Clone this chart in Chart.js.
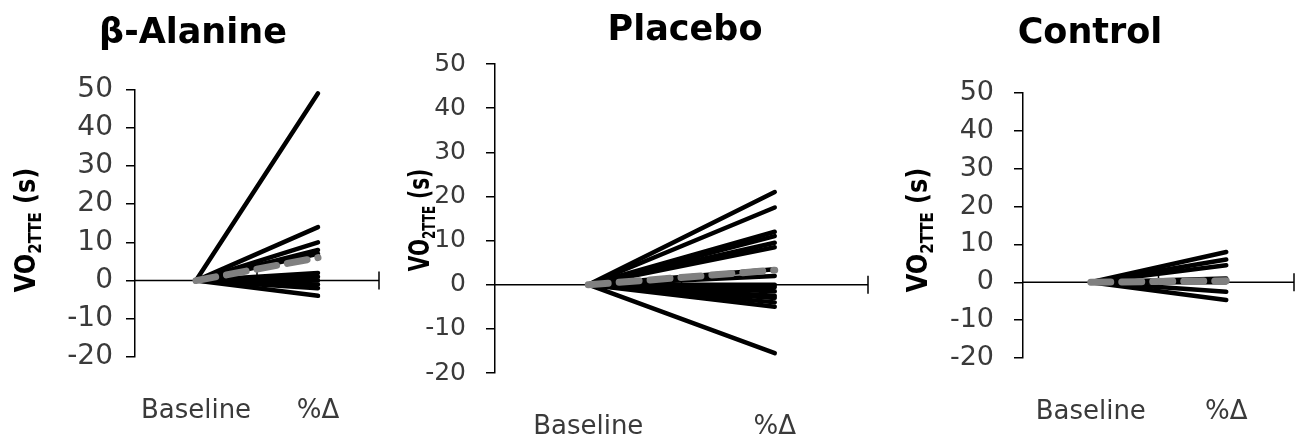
<!DOCTYPE html>
<html>
<head>
<meta charset="utf-8">
<script src="https://cdn.jsdelivr.net/npm/chart.js@4.4.1/dist/chart.umd.min.js"></script>
<style>
body{margin:0;background:#fff;width:1303px;height:444px;overflow:hidden;position:relative}
canvas{position:absolute;top:0}
</style>
</head>
<body>
<canvas id="c1" width="395" height="444" style="left:0px"></canvas>
<canvas id="c2" width="490" height="444" style="left:395px"></canvas>
<canvas id="c3" width="418" height="444" style="left:885px"></canvas>
<script>
// categories + y scale
const categories = ['Baseline', '%Δ'];
const yMin = -20, yMax = 50, yStep = 10;
const baselineValue = 0;

// %Δ of each subject
const alanineChange = [49, 14, 10, 8, 7, 2, 1, 0, -1, -2, -4];
const alanineMean = 6;
const placeboChange = [21, 17.5, 12, 11, 9.5, 8.5, 3.5, 2, 0, -0.5, -1.5, -2.5, -3, -4, -5, -15.5];
const placeboMean = 3.3;
const controlChange = [8, 6, 4.5, 1, 0, -2.5, -4.7];
const controlMean = 0.4;

// layout of each panel (canvas-local pixels)
const panels = [
  {id:'c1', title:'β-Alanine', change:alanineChange, mean:alanineMean,
   left:135, right:379, top:89.5, bottom:357, titleX:193, titleY:43,
   yTitleX:35, yTitleY:230, ySize:24, yStretch:1.15, tickSize:28, tickPad:13, xPad:31},
  {id:'c2', title:'Placebo', change:placeboChange, mean:placeboMean,
   left:100, right:473, top:64, bottom:373, titleX:290, titleY:40,
   yTitleX:34, yTitleY:220, ySize:20, yStretch:1.4, tickSize:25, tickPad:20, xPad:31},
  {id:'c3', title:'Control', change:controlChange, mean:controlMean,
   left:138, right:409, top:93, bottom:358, titleX:205, titleY:43,
   yTitleX:42, yTitleY:230, ySize:24, yStretch:1.15, tickSize:27, tickPad:20, xPad:31}
];

const FONT = '"DejaVu Sans"';

const panelDecor = {
  id: 'panelDecor',
  beforeDatasetsDraw(chart, args, o) {
    const ctx = chart.ctx, x = chart.scales.x, y = chart.scales.y, a = chart.chartArea;
    const y0 = y.getPixelForValue(0);
    const mid = (x.getPixelForValue(0) + x.getPixelForValue(1)) / 2;
    ctx.save();
    ctx.strokeStyle = '#000';
    ctx.lineWidth = 1.5;
    ctx.beginPath();
    ctx.moveTo(a.left, y0);
    ctx.lineTo(a.right, y0);
    [mid, a.right].forEach(px => {
      ctx.moveTo(px, y0 - 9);
      ctx.lineTo(px, y0 + 9);
    });
    ctx.stroke();
    ctx.restore();
  },
  afterDraw(chart, args, o) {
    const ctx = chart.ctx;
    ctx.save();
    ctx.fillStyle = '#000';
    ctx.font = 'bold 35px ' + FONT;
    ctx.textAlign = 'center';
    ctx.textBaseline = 'alphabetic';
    ctx.fillText(o.title, o.titleX, o.titleY);

    // VO2TTE (s) with subscript
    const s = o.ySize, sub = Math.round(s * 0.62);
    const parts = [['VO', s, 0], ['2TTE', sub, s * 0.22], [' (s)', s, 0]];
    let total = 0;
    parts.forEach(p => {
      ctx.font = 'bold ' + p[1] + 'px ' + FONT;
      p.push(ctx.measureText(p[0]).width);
      total += p[3];
    });
    ctx.translate(o.yTitleX, o.yTitleY);
    ctx.rotate(-Math.PI / 2);
    ctx.scale(1, o.yStretch);
    ctx.textAlign = 'left';
    let cx = -total / 2;
    parts.forEach(p => {
      ctx.font = 'bold ' + p[1] + 'px ' + FONT;
      ctx.fillText(p[0], cx, p[2]);
      cx += p[3];
    });
    ctx.restore();
  }
};

function makeChart(p) {
  const el = document.getElementById(p.id);
  // mean first so it is drawn on top
  const datasets = [{
    data: [baselineValue, p.mean],
    borderColor: '#808080', borderWidth: 7, borderDash: [20, 11], borderCapStyle: 'round'
  }];
  p.change.forEach(v => datasets.push({
    data: [baselineValue, v], borderColor: '#000', borderWidth: 4.5, borderCapStyle: 'round'
  }));

  new Chart(el, {
    type: 'line',
    data: { labels: categories, datasets: datasets },
    options: {
      responsive: false,
      animation: false,
      devicePixelRatio: 1,
      events: [],
      elements: { point: { radius: 0 }, line: { tension: 0, fill: false } },
      layout: { padding: { left: 0, top: p.top, right: el.width - p.right, bottom: 0 } },
      plugins: {
        legend: { display: false },
        tooltip: { enabled: false },
        panelDecor: p
      },
      scales: {
        x: {
          offset: true,
          grid: { display: false },
          border: { display: false },
          ticks: { padding: p.xPad, color: '#3a3a3a', font: { family: 'DejaVu Sans', size: 26 }, maxRotation: 0, autoSkip: false },
          afterFit(s) { s.height = el.height - p.bottom; }
        },
        y: {
          min: yMin, max: yMax,
          ticks: { stepSize: yStep, padding: p.tickPad, color: '#3a3a3a', font: { family: 'DejaVu Sans', size: p.tickSize } },
          grid: { drawOnChartArea: false, tickLength: 9, color: '#000', lineWidth: 1.5 },
          border: { color: '#000', width: 1.5 },
          afterFit(s) { s.width = p.left; }
        }
      }
    },
    plugins: [panelDecor]
  });
}

panels.forEach(makeChart);
</script>
</body>
</html>
